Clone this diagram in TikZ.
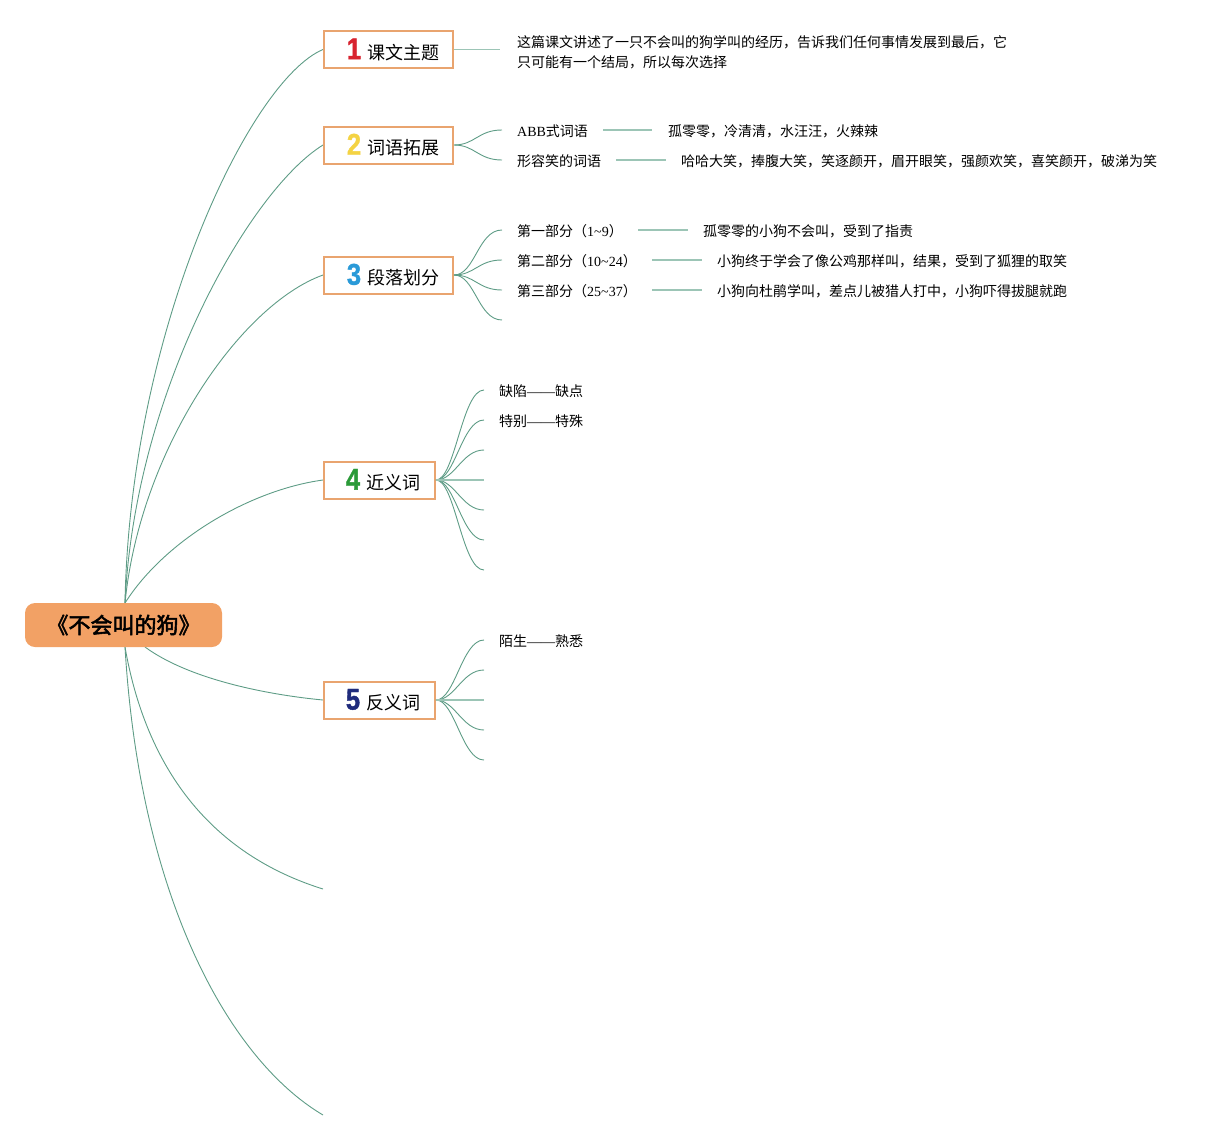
\documentclass[tikz,border=0pt]{standalone}
\usepackage{fontspec}
\usetikzlibrary{backgrounds}
\setmainfont{Noto Sans CJK SC}
\newfontfamily\lat{Liberation Serif}
\newfontfamily\cjkbold{Noto Sans CJK SC}[FakeBold=2.5]
\newfontfamily\numf{Liberation Sans}[FakeStretch=0.85, BoldFeatures={FakeBold=1.2}]
\definecolor{edge}{HTML}{5E9C86}
\definecolor{edgelt}{HTML}{9CC5B6}
\definecolor{boxline}{HTML}{E9A46F}
\definecolor{rootfill}{HTML}{F2A165}
\definecolor{nred}{HTML}{D8232F}
\definecolor{nyel}{HTML}{F4D343}
\definecolor{nblue}{HTML}{2A9AD8}
\definecolor{ngreen}{HTML}{2A9A38}
\definecolor{nnavy}{HTML}{1F2B7C}
\newcommand{\bignum}[2]{\textcolor{#1}{\numf\bfseries\fontsize{30}{30}\selectfont #2}}
\tikzset{
  topic/.style={draw=boxline, line width=2pt, fill=white, minimum height=37pt, inner sep=0pt, anchor=west, font=\fontsize{18}{20}\selectfont},
  leaf/.style={anchor=west, inner sep=0pt, font=\fontsize{14}{20}\selectfont, align=left},
  conn/.style={draw=edge, line width=0.9pt},
  lconn/.style={draw=edgelt, line width=1.4pt}
}
\begin{document}
\begin{tikzpicture}[x=1pt,y=-1pt]
\useasboundingbox (0,0) rectangle (1217,1140);

% root node
\node[fill=rootfill, rounded corners=10pt, minimum width=197pt, minimum height=44pt, inner sep=0pt, font=\cjkbold\fontsize{22}{24}\selectfont] (root) at (123.5,625) {《不会叫的狗》};
\coordinate (rt) at (125,603);
\coordinate (rb) at (125,647);
\coordinate (rb5) at (145,647);
\coordinate (e6) at (323,889);
\coordinate (e7) at (323,1115);

% topic boxes
\node[topic, minimum width=129pt] (t1) at (323,49.5) {\hspace{9pt}\bignum{nred}{1}\hspace{6pt}课文主题\hspace{10pt}};
\node[topic, minimum width=129pt] (t2) at (323,145) {\hspace{9pt}\bignum{nyel}{2}\hspace{6pt}词语拓展\hspace{10pt}};
\node[topic, minimum width=129pt] (t3) at (323,275) {\hspace{9pt}\bignum{nblue}{3}\hspace{6pt}段落划分\hspace{10pt}};
\node[topic, minimum width=111pt] (t4) at (323,480) {\hspace{7pt}\bignum{ngreen}{4}\hspace{6pt}近义词\hspace{10pt}};
\node[topic, minimum width=111pt] (t5) at (323,700) {\hspace{7pt}\bignum{nnavy}{5}\hspace{6pt}反义词\hspace{10pt}};

\begin{pgfonlayer}{background}
\draw[conn] (rt) .. controls (130,330) and (250,80) .. (t1.west);
\draw[conn] (rt) .. controls (135,390) and (250,190) .. (t2.west);
\draw[conn] (rt) .. controls (140,450) and (240,305) .. (t3.west);
\draw[conn] (rt) .. controls (165,540) and (250,490) .. (t4.west);
\draw[conn] (rb5) .. controls (190,680) and (270,695) .. (t5.west);
\draw[conn] (rb) .. controls (150,790) and (230,860) .. (e6);
\draw[conn] (rb) .. controls (140,900) and (230,1060) .. (e7);
\end{pgfonlayer}

% ---- branch 1
\coordinate (c1) at (500,49.5);
\draw[lconn] (t1.east) -- (c1);
\node[leaf, anchor=north west] (l1) at (517,35) {这篇课文讲述了一只不会叫的狗学叫的经历，告诉我们任何事情发展到最后，它\\只可能有一个结局，所以每次选择};

% ---- branch 2
\coordinate (c21) at (502,130);
\coordinate (c22) at (502,160);
\draw[conn] (t2.east) .. controls (475,145) and (478,130) .. (c21);
\draw[conn] (t2.east) .. controls (475,145) and (478,160) .. (c22);
\node[leaf] (l21) at (517,131) {{\lat ABB}式词语};
\node[leaf] (l22) at (517,161) {形容笑的词语};
\node[leaf] (m21) at (668,131) {孤零零，冷清清，水汪汪，火辣辣};
\node[leaf] (m22) at (681,161) {哈哈大笑，捧腹大笑，笑逐颜开，眉开眼笑，强颜欢笑，喜笑颜开，破涕为笑};
\coordinate (a21) at (603,130); \coordinate (b21) at (652,130);
\coordinate (a22) at (616,160); \coordinate (b22) at (666,160);
\draw[lconn] (a21) -- (b21);
\draw[lconn] (a22) -- (b22);

% ---- branch 3
\coordinate (c31) at (502,230);
\coordinate (c32) at (502,260);
\coordinate (c33) at (502,290);
\coordinate (c34) at (502,320);
\foreach \c/\y in {c31/230,c32/260,c33/290,c34/320}
  \draw[conn] (t3.east) .. controls (475,275) and (478,\y) .. (\c);
\node[leaf] (l31) at (517,231) {第一部分（{\lat 1\textasciitilde9}）};
\node[leaf] (l32) at (517,261) {第二部分（{\lat 10\textasciitilde24}）};
\node[leaf] (l33) at (517,291) {第三部分（{\lat 25\textasciitilde37}）};
\node[leaf] (m31) at (703,231) {孤零零的小狗不会叫，受到了指责};
\node[leaf] (m32) at (717,261) {小狗终于学会了像公鸡那样叫，结果，受到了狐狸的取笑};
\node[leaf] (m33) at (717,291) {小狗向杜鹃学叫，差点儿被猎人打中，小狗吓得拔腿就跑};
\coordinate (a31) at (638,230); \coordinate (b31) at (688,230);
\coordinate (a32) at (652,260); \coordinate (b32) at (702,260);
\coordinate (a33) at (652,290); \coordinate (b33) at (702,290);
\draw[lconn] (a31) -- (b31);
\draw[lconn] (a32) -- (b32);
\draw[lconn] (a33) -- (b33);

% ---- branch 4
\foreach \i/\y in {1/390,2/420,3/450,5/510,6/540,7/570}{
  \coordinate (c4\i) at (484,\y);
  \draw[conn] (t4.east) .. controls (455,480) and (462,\y) .. (c4\i);
}
\coordinate (c44) at (484,480);
\draw[lconn] (t4.east) -- (c44);
\node[leaf] (l41) at (499,391) {缺陷{\lat ——}缺点};
\node[leaf] (l42) at (499,421) {特别{\lat ——}特殊};

% ---- branch 5
\foreach \i/\y in {1/640,2/670,4/730,5/760}{
  \coordinate (c5\i) at (484,\y);
  \draw[conn] (t5.east) .. controls (455,700) and (462,\y) .. (c5\i);
}
\coordinate (c53) at (484,700);
\draw[lconn] (t5.east) -- (c53);
\node[leaf] (l51) at (499,641) {陌生{\lat ——}熟悉};
\end{tikzpicture}
\end{document}
